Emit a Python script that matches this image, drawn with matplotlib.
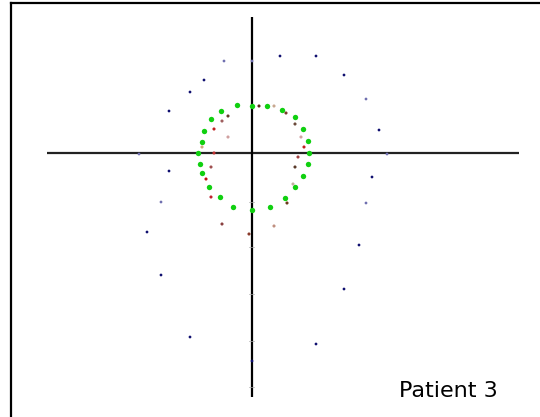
import matplotlib
matplotlib.use('Agg')
import matplotlib.pyplot as plt
import numpy as np

# outer ring (blue), x / y relative to the crossing of the two axes
blue_x = [0.0, 2.8, 6.4, 9.2, 11.4, 12.7, 13.5, 12.0, 11.4, 10.7, 9.2, 6.4, 0.0,
          -6.2, -9.1, -10.5, -9.1, -8.3, -11.3, -8.3, -6.2, -4.8, -2.8]
blue_y = [9.2, 9.7, 9.7, 7.8, 5.4, 2.3, -0.1, -2.4, -5.0, -9.2, -13.6, -19.1, -20.8,
          -18.4, -12.2, -7.9, -4.9, -1.8, -0.1, 4.2, 6.1, 7.3, 9.2]
blue_light = [1, 0, 0, 0, 1, 0, 1, 0, 1, 0, 0, 0, 0,
              0, 0, 0, 1, 0, 1, 0, 0, 0, 1]

# middle ring (green)
green_x = [-1.5, 0.0, 1.5, 3.0, 4.3, 5.1, 5.6, 5.7, 5.6, 5.1, 4.3, 3.3, 1.8,
           0.0, -1.9, -3.2, -4.3, -5.0, -5.2, -5.4, -5.0, -4.8, -4.1, -3.1]
green_y = [4.8, 4.7, 4.7, 4.3, 3.6, 2.4, 1.2, 0.0, -1.1, -2.3, -3.4, -4.5, -5.4,
           -5.7, -5.4, -4.4, -3.4, -2.0, -1.1, 0.0, 1.1, 2.2, 3.4, 4.2]

# inner spiral (red / brown)
red_x = [0.7, 2.2, 3.4, 4.3, 4.9, 5.2, 4.6, 4.3, 4.1, 3.5, -2.4, -3.0, -3.8,
         -2.4, -5.0, -3.8, -4.1, -4.6, -4.1, -3.0, 2.2, -0.3]
red_y = [4.7, 4.7, 4.0, 2.9, 1.6, 0.6, -0.4, -1.4, -3.1, -5.0, 3.7, 3.2, 2.4,
         1.6, 0.6, -0.0, -1.4, -2.6, -4.4, -7.1, -7.3, -8.1]
red_shade = ['#5a2a1a', '#c8a890', '#7a3a2a', '#6a4a3a', '#d0a0a0', '#c02020',
             '#a04040', '#5a3a2a', '#c0b0a0', '#6a3a1a', '#6a3a2a', '#a06060',
             '#c02020', '#d0a0a0', '#d0a880', '#c03030', '#a05050', '#c01010',
             '#c02030', '#8a4040', '#c09080', '#8a3a2a']

# faint tick gaps on the vertical axis
tick_y = [-4.9, -9.4, -14.1, -18.8, -23.4]

label = 'Patient 3'

fig = plt.figure(figsize=(5.4, 4.17), dpi=100)
ax = fig.add_axes([11 / 540, 0, 529 / 540, 414 / 417])
ax.set_xlim(-24.1, 28.8)
ax.set_ylim(-26.4, 15.0)
for s in ['right', 'bottom']:
    ax.spines[s].set_visible(False)
for s in ['left', 'top']:
    ax.spines[s].set_linewidth(1.6)
    ax.spines[s].set_color('black')
ax.set_xticks([])
ax.set_yticks([])

# axes cross
ax.plot([-20.5, 26.7], [0, 0], color='#222222', lw=1.6, solid_capstyle='butt', zorder=1)
ax.plot([0, 0], [13.6, -24.4], color='black', lw=1.6, solid_capstyle='butt', zorder=1)
for ty in tick_y:
    ax.plot([-0.25, 0.25], [ty, ty], color='#aaaaaa', lw=0.5, zorder=1.5)

bc = ['#7070b0' if l else '#101070' for l in blue_light]
ax.scatter(blue_x, blue_y, s=4, c=bc, linewidths=0, zorder=3)
ax.scatter(green_x, green_y, s=15, c='#10d010', linewidths=0, zorder=3)
ax.scatter(red_x, red_y, s=5, c=red_shade, linewidths=0, zorder=3)

ax.text(24.6, -24.4, label, ha='right', va='baseline', fontsize=16,
        family='DejaVu Sans', color='black')

fig.savefig('out.png', dpi=100)
